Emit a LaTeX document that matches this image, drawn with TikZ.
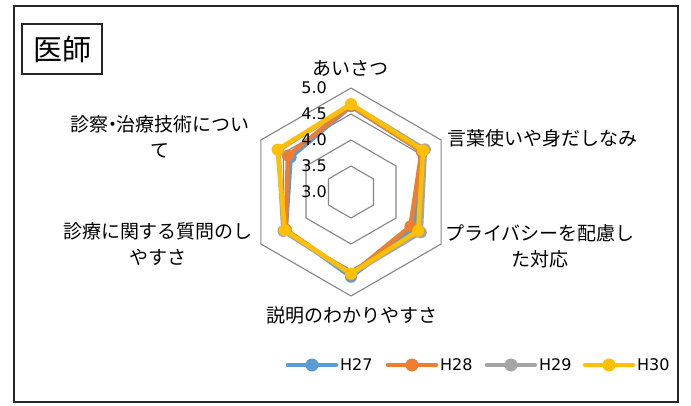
\documentclass[tikz,border=0pt]{standalone}
\usepackage{fontspec}
\usetikzlibrary{calc}
\newfontfamily\jpfont{Noto Sans CJK JP}
\newfontfamily\numfont{DejaVu Sans}
\definecolor{cA}{HTML}{5B9BD5}
\definecolor{cB}{HTML}{ED7D31}
\definecolor{cC}{HTML}{A5A5A5}
\definecolor{cD}{HTML}{FFC000}
\definecolor{gridc}{HTML}{868686}
\tikzset{
  gridline/.style={draw=gridc, line width=1.1pt},
  series/.style={line width=4.5pt, line join=round, line cap=round},
  lbl/.style={font=\jpfont\fontsize{19}{26}\selectfont, align=center, inner sep=0pt},
  ticklbl/.style={font=\numfont\fontsize{16}{18}\selectfont, anchor=east, inner sep=0pt},
  leglbl/.style={font=\numfont\fontsize{16}{18}\selectfont, anchor=west, inner sep=0pt},
}
\begin{document}
\begin{tikzpicture}[x=1pt,y=1pt]
\useasboundingbox (0,0) rectangle (691,405);
\fill[white] (0,0) rectangle (691,405);
\draw[line width=1.8pt, black!85] (14,3) rectangle (678,399);
\node[draw=black!85, line width=1.3pt, minimum width=80pt, minimum height=50pt, inner sep=0pt,
      font=\jpfont\fontsize{29}{32}\selectfont] (title) at (62,356) {医師};
% radar grid
\coordinate (c) at (351,213);
\foreach \r in {26,52,78,104}
  \draw[gridline] (c) +(90:\r) -- +(30:\r) -- +(-30:\r) -- +(-90:\r) -- +(-150:\r) -- +(150:\r) -- cycle;
% series
\foreach \col/\a/\b/\cc/\d/\e/\f in {
  cA/4.65/4.57/4.40/4.63/4.45/4.34,
  cB/4.66/4.57/4.32/4.59/4.45/4.40,
  cC/4.68/4.64/4.55/4.58/4.50/4.61,
  cD/4.69/4.60/4.49/4.57/4.47/4.63}{
  \draw[series, draw=\col] (c) +(90:{(\a-3)*52}) -- +(30:{(\b-3)*52}) -- +(-30:{(\cc-3)*52})
     -- +(-90:{(\d-3)*52}) -- +(-150:{(\e-3)*52}) -- +(150:{(\f-3)*52}) -- cycle;
  \foreach \v [count=\i] in {\a,\b,\cc,\d,\e,\f}
    \fill[\col] (c) +({90-60*(\i-1)}:{(\v-3)*52}) circle (6);
}
% tick labels
\foreach \v/\r in {5.0/104,4.5/78,4.0/52,3.5/26,3.0/0}
  \node[ticklbl] (t\r) at ($(c)+(-24,\r)$) {\v};
% axis labels
\node[lbl] (l1) at (350,337) {あいさつ};
\node[lbl, anchor=west] (l2) at (447,267) {言葉使いや身だしなみ};
\node[lbl] (l3) at (540,159) {プライバシーを配慮し\\た対応};
\node[lbl] (l4) at (352,90) {説明のわかりやすさ};
\node[lbl] (l5) at (158,161) {診療に関する質問のし\\やすさ};
\node[lbl] (l6) at (160,268) {診察\hspace{-0.27em}・\hspace{-0.27em}治療技術につい\\て};
% legend
\foreach \col/\x/\t in {cA/288/H27, cB/388/H28, cC/487/H29, cD/585/H30}{
  \draw[series, draw=\col] (\x,40) -- (\x+48,40);
  \fill[\col] (\x+24,40) circle (6.5);
  \node[leglbl] (leg\t) at (\x+52,40) {\t};
}
\end{tikzpicture}
\end{document}
